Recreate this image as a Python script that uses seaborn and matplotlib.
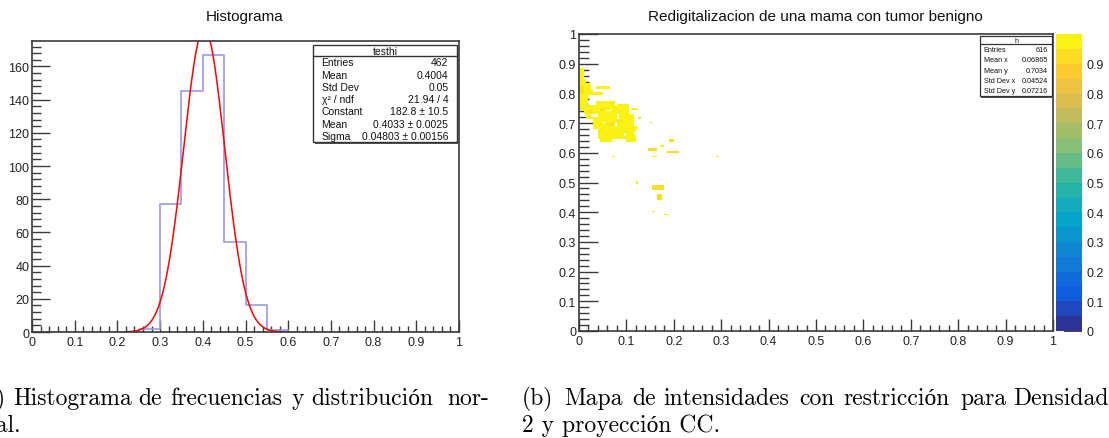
import numpy as np
import pandas as pd
import matplotlib
matplotlib.use("Agg")
import matplotlib.pyplot as plt
import seaborn as sns
from matplotlib.colors import LinearSegmentedColormap, ListedColormap
from matplotlib.patches import Rectangle
from matplotlib.ticker import MultipleLocator

# ------------------------------------------------------------------ data
# left: histogram "testhi" (bins of width 0.05 on [0, 1])
hist_bin_left = [0.00, 0.05, 0.10, 0.15, 0.20, 0.25, 0.30, 0.35, 0.40, 0.45,
                 0.50, 0.55, 0.60, 0.65, 0.70, 0.75, 0.80, 0.85, 0.90, 0.95]
hist_counts = [0, 0, 0, 0, 0, 2, 77, 145, 167, 54,
               16, 1, 0, 0, 0, 0, 0, 0, 0, 0]
bin_width = 0.05

# gaussian fit parameters (from the stats box)
fit_constant = 182.8
fit_mean = 0.4033
fit_sigma = 0.04803
fit_range = (0.22, 0.60)

hist_stats_labels = ["Entries", "Mean", "Std Dev", "\u03c7\u00b2 / ndf",
                     "Constant", "Mean", "Sigma"]
hist_stats_values = ["462", "0.4004", "0.05", "21.94 / 4",
                     "182.8 \u00b1 10.5", "0.4033 \u00b1 0.0025",
                     "0.04803 \u00b1 0.00156"]

# right: 2D map, regions (x0, x1, y0, y1, value) in axis units; value 0 = empty
map_x0 = [0.000, 0.000, 0.000, 0.000, 0.000, 0.005, 0.000, 0.000, 0.036,
          0.037, 0.079, 0.112, 0.010, 0.013, 0.086, 0.125,
          0.030, 0.114, 0.040, 0.044, 0.100,
          0.025, 0.075, 0.095, 0.060, 0.115, 0.050, 0.035, 0.105,
          0.000, 0.060, 0.045, 0.090, 0.020, 0.080, 0.055,
          0.148, 0.188, 0.143, 0.170, 0.187, 0.156, 0.070, 0.290,
          0.122, 0.155, 0.165, 0.156, 0.178]
map_x1 = [0.012, 0.008, 0.015, 0.025, 0.030, 0.050, 0.022, 0.012, 0.065,
          0.075, 0.107, 0.125, 0.107, 0.079, 0.115, 0.130,
          0.114, 0.125, 0.121, 0.069, 0.121,
          0.040, 0.080, 0.100, 0.070, 0.121, 0.055, 0.040, 0.110,
          0.010, 0.075, 0.055, 0.100, 0.030, 0.090, 0.065,
          0.153, 0.200, 0.165, 0.182, 0.210, 0.166, 0.075, 0.296,
          0.127, 0.182, 0.175, 0.160, 0.190]
map_y0 = [0.865, 0.850, 0.835, 0.815, 0.795, 0.795, 0.765, 0.740, 0.815,
          0.758, 0.747, 0.745, 0.730, 0.714, 0.714, 0.715,
          0.680, 0.680, 0.646, 0.633, 0.633,
          0.722, 0.690, 0.655, 0.740, 0.660, 0.700, 0.660, 0.735,
          0.800, 0.690, 0.740, 0.668, 0.735, 0.705, 0.655,
          0.698, 0.637, 0.603, 0.618, 0.598, 0.585, 0.585, 0.585,
          0.497, 0.475, 0.440, 0.398, 0.390]
map_y1 = [0.885, 0.865, 0.850, 0.835, 0.815, 0.805, 0.795, 0.765, 0.825,
          0.775, 0.764, 0.752, 0.758, 0.730, 0.730, 0.722,
          0.714, 0.690, 0.680, 0.646, 0.646,
          0.728, 0.700, 0.665, 0.745, 0.670, 0.705, 0.668, 0.740,
          0.820, 0.700, 0.750, 0.675, 0.745, 0.712, 0.662,
          0.703, 0.645, 0.615, 0.625, 0.607, 0.590, 0.590, 0.590,
          0.503, 0.490, 0.458, 0.403, 0.396]
map_value = [0.97, 0.97, 0.97, 0.97, 0.97, 0.97, 0.97, 0.97, 0.97,
             0.97, 0.97, 0.97, 0.97, 0.97, 0.97, 0.93,
             0.97, 0.97, 0.97, 0.97, 0.97,
             0.00, 0.00, 0.00, 0.00, 0.00, 0.00, 0.00, 0.00,
             0.93, 0.93, 0.93, 0.93, 0.93, 0.93, 0.93,
             0.93, 0.93, 0.93, 0.97, 0.93, 0.97, 0.97, 0.97,
             0.97, 0.93, 0.93, 0.97, 0.97]
map_bin = 0.005

map_stats_labels = ["Entries", "Mean x", "Mean y", "Std Dev x", "Std Dev y"]
map_stats_values = ["616", "0.06865", "0.7034", "0.04524", "0.07216"]

axis_tick_values = [0.0, 0.1, 0.2, 0.3, 0.4, 0.5, 0.6, 0.7, 0.8, 0.9, 1.0]
axis_tick_labels = ["0", "0.1", "0.2", "0.3", "0.4", "0.5", "0.6", "0.7",
                    "0.8", "0.9", "1"]
hist_y_ticks = [0, 20, 40, 60, 80, 100, 120, 140, 160]
cbar_tick_values = [0.0, 0.1, 0.2, 0.3, 0.4, 0.5, 0.6, 0.7, 0.8, 0.9]
cbar_tick_labels = ["0", "0.1", "0.2", "0.3", "0.4", "0.5", "0.6", "0.7",
                    "0.8", "0.9"]

# ROOT kBird palette
bird_stops = [0.0, 0.125, 0.25, 0.375, 0.5, 0.625, 0.75, 0.875, 1.0]
bird_red = [0.2082, 0.0592, 0.0780, 0.0232, 0.1802, 0.5301, 0.8186, 0.9956, 0.9764]
bird_green = [0.1664, 0.3599, 0.5041, 0.6419, 0.7178, 0.7492, 0.7328, 0.7862, 0.9832]
bird_blue = [0.5293, 0.8684, 0.8385, 0.7914, 0.6425, 0.4662, 0.3499, 0.1968, 0.0539]
n_levels = 20

title_left = "Histograma"
title_right = "Redigitalizacion de una mama con tumor benigno"
caption_left_line1 = ["(a)", "Histograma", "de", "frecuencias", "y",
                      "distribución", "nor-"]
caption_left_line2 = "mal."
caption_right_line1 = ["(b)", "Mapa", "de", "intensidades", "con",
                       "restricción", "para", "Densidad"]
caption_right_line2 = "2 y proyección CC."

# ------------------------------------------------------------------ style / layout
sns.set_theme(style="white")
plt.rcParams["font.family"] = ["Liberation Sans", "DejaVu Sans"]

W, H = 1109, 439
fig = plt.figure(figsize=(W / 100, H / 100), dpi=100)
fig.patch.set_facecolor("white")

# justified caption word positions (pixels from left)
cap_left_word_x = [-24, 13, 138, 170, 291, 311, 447]
cap_right_word_x = [522, 564, 632, 663, 799, 843, 960, 1013]
cap_line1_base, cap_line2_base = 405, 432


def px_rect(x0, y0, x1, y1):
    return [x0 / W, 1 - y1 / H, (x1 - x0) / W, (y1 - y0) / H]


frame_color = "#3a3a3a"
label_color = "#222222"
tick_fs = 9

# ------------------------------------------------------------------ left panel
axl = fig.add_axes(px_rect(32, 42, 459, 333))
hist_df = pd.DataFrame({"x": [b + bin_width / 2 for b in hist_bin_left],
                        "n": hist_counts})
edges = hist_bin_left + [hist_bin_left[-1] + bin_width]
sns.histplot(data=hist_df, x="x", weights="n", bins=edges, element="step",
             fill=False, color="#9a9ae8", linewidth=1.2, ax=axl)

xs = np.linspace(fit_range[0], fit_range[1], 300)
ys = fit_constant * np.exp(-0.5 * ((xs - fit_mean) / fit_sigma) ** 2)
sns.lineplot(x=xs, y=ys, color="#ff0000", linewidth=1.1, ax=axl)

axl.set_xlim(0, 1)
axl.set_ylim(0, 1.05 * max(hist_counts))
axl.set_xticks(axis_tick_values)
axl.set_xticklabels(axis_tick_labels)
axl.set_yticks(hist_y_ticks)
axl.set_yticklabels([str(v) for v in hist_y_ticks])
axl.xaxis.set_minor_locator(MultipleLocator(0.02))
axl.yaxis.set_minor_locator(MultipleLocator(4))
axl.set_xlabel("")
axl.set_ylabel("")
axl.tick_params(axis="x", which="major", direction="in", length=9, width=1,
                color=frame_color, labelsize=tick_fs, labelcolor=label_color, pad=3,
                bottom=True, top=False)
axl.tick_params(axis="x", which="minor", direction="in", length=4.5, width=1,
                color=frame_color, bottom=True, top=False)
axl.tick_params(axis="y", which="major", direction="in", length=13, width=1,
                color=frame_color, labelsize=tick_fs, labelcolor=label_color, pad=2,
                left=True, right=False)
axl.tick_params(axis="y", which="minor", direction="in", length=6.5, width=1,
                color=frame_color, left=True, right=False)
for s in axl.spines.values():
    s.set_visible(True)
    s.set_color(frame_color)
    s.set_linewidth(1.2)
    s.set_zorder(5)

# stats box (left)
bx0, bx1, by0, by1 = 0.658, 0.995, 0.653, 0.986
axl.add_patch(Rectangle((bx0 + 0.004, by0 - 0.006), bx1 - bx0, by1 - by0,
                        transform=axl.transAxes, facecolor="#555555",
                        edgecolor="none", zorder=6))
axl.add_patch(Rectangle((bx0, by0), bx1 - bx0, by1 - by0, transform=axl.transAxes,
                        facecolor="white", edgecolor="#333333", linewidth=1,
                        zorder=7))
head_y = 0.948
axl.plot([bx0, bx1], [head_y, head_y], transform=axl.transAxes, color="#333333",
         linewidth=1, zorder=8)
axl.text((bx0 + bx1) / 2, (head_y + by1) / 2, "testhi", transform=axl.transAxes,
         ha="center", va="center", fontsize=7.5, color="#111111", zorder=9)
row_h = (head_y - by0) / len(hist_stats_labels)
for i, (lab, val) in enumerate(zip(hist_stats_labels, hist_stats_values)):
    yy = head_y - (i + 0.5) * row_h
    axl.text(bx0 + 0.02, yy, lab, transform=axl.transAxes, ha="left",
             va="center", fontsize=7.5, color="#111111", zorder=9)
    axl.text(bx1 - 0.02, yy, val, transform=axl.transAxes, ha="right",
             va="center", fontsize=7.5, color="#111111", zorder=9)

# ------------------------------------------------------------------ right panel
axr = fig.add_axes(px_rect(579, 35, 1053, 332))
cax = fig.add_axes(px_rect(1056, 35, 1082, 332))

bird = LinearSegmentedColormap.from_list(
    "bird", [(s, (r, g, b)) for s, r, g, b in zip(bird_stops, bird_red, bird_green, bird_blue)])
cmap = ListedColormap([bird((i + 0.5) / n_levels) for i in range(n_levels)])

nb = int(round(1 / map_bin))
M = np.zeros((nb, nb))
for x0, x1, y0, y1, v in zip(map_x0, map_x1, map_y0, map_y1, map_value):
    i0 = int(round(x0 / map_bin)); i1 = max(int(round(x1 / map_bin)), i0 + 1)
    j0 = int(round(y0 / map_bin)); j1 = max(int(round(y1 / map_bin)), j0 + 1)
    M[j0:j1, i0:i1] = v

sns.heatmap(M, mask=(M == 0), cmap=cmap, vmin=0, vmax=1, ax=axr, cbar_ax=cax,
            xticklabels=False, yticklabels=False, rasterized=True)
axr.set_ylim(0, nb)
axr.set_xlim(0, nb)
axr.set_xticks([v * nb for v in axis_tick_values])
axr.set_xticklabels(axis_tick_labels)
axr.set_yticks([v * nb for v in axis_tick_values])
axr.set_yticklabels(axis_tick_labels, rotation=0)
axr.xaxis.set_minor_locator(MultipleLocator(4))
axr.yaxis.set_minor_locator(MultipleLocator(4))
axr.tick_params(axis="x", which="major", direction="in", length=9, width=1,
                color=frame_color, labelsize=tick_fs, labelcolor=label_color, pad=3,
                bottom=True, top=False, labelrotation=0)
axr.tick_params(axis="x", which="minor", direction="in", length=4.5, width=1,
                color=frame_color, bottom=True, top=False)
axr.tick_params(axis="y", which="major", direction="in", length=14, width=1,
                color=frame_color, labelsize=tick_fs, labelcolor=label_color, pad=2,
                left=True, right=False)
axr.tick_params(axis="y", which="minor", direction="in", length=7, width=1,
                color=frame_color, left=True, right=False)
for s in axr.spines.values():
    s.set_visible(True)
    s.set_color(frame_color)
    s.set_linewidth(1.2)
    s.set_zorder(5)

# colour bar
cax.set_yticks(cbar_tick_values)
cax.set_yticklabels(cbar_tick_labels)
cax.yaxis.set_minor_locator(plt.NullLocator())
cax.tick_params(axis="y", which="major", direction="in", length=13, width=1.2,
                color="#2a2a2a", labelsize=tick_fs, labelcolor=label_color,
                right=True, left=False, labelright=True, labelleft=False, pad=3)
for s in cax.spines.values():
    s.set_visible(False)

# stats box (right)
rx0, rx1, ry0, ry1 = 0.846, 0.998, 0.791, 0.993
axr.add_patch(Rectangle((rx0 + 0.003, ry0 - 0.005), rx1 - rx0, ry1 - ry0,
                        transform=axr.transAxes, facecolor="#555555",
                        edgecolor="none", zorder=6, clip_on=False))
axr.add_patch(Rectangle((rx0, ry0), rx1 - rx0, ry1 - ry0, transform=axr.transAxes,
                        facecolor="white", edgecolor="#333333", linewidth=0.9,
                        zorder=7, clip_on=False))
rhead = 0.966
axr.plot([rx0, rx1], [rhead, rhead], transform=axr.transAxes, color="#333333",
         linewidth=0.9, zorder=8)
axr.text((rx0 + rx1) / 2, (rhead + ry1) / 2, "h", transform=axr.transAxes,
         ha="center", va="center", fontsize=5, color="#111111", zorder=9)
rrow = (rhead - ry0) / len(map_stats_labels)
for i, (lab, val) in enumerate(zip(map_stats_labels, map_stats_values)):
    yy = rhead - (i + 0.5) * rrow
    axr.text(rx0 + 0.008, yy, lab, transform=axr.transAxes, ha="left",
             va="center", fontsize=5.2, color="#111111", zorder=9)
    axr.text(rx1 - 0.008, yy, val, transform=axr.transAxes, ha="right",
             va="center", fontsize=5.2, color="#111111", zorder=9)

# ------------------------------------------------------------------ titles
fig.text(245 / W, 1 - 17 / H, title_left, ha="center", va="center",
         fontsize=11, color="#111111")
fig.text(815 / W, 1 - 17 / H, title_right, ha="center", va="center",
         fontsize=11, color="#111111")

# ------------------------------------------------------------------ captions
cap_font = dict(family=["cmr10", "Liberation Serif"], fontsize=17,
                color="black", ha="left", va="baseline")
for word, xp in zip(caption_left_line1, cap_left_word_x):
    fig.text(xp / W, 1 - cap_line1_base / H, word, **cap_font)
fig.text(cap_left_word_x[0] / W, 1 - cap_line2_base / H, caption_left_line2, **cap_font)
for word, xp in zip(caption_right_line1, cap_right_word_x):
    fig.text(xp / W, 1 - cap_line1_base / H, word, **cap_font)
fig.text(cap_right_word_x[0] / W, 1 - cap_line2_base / H, caption_right_line2, **cap_font)

fig.savefig("out.png", dpi=100, facecolor="white")
